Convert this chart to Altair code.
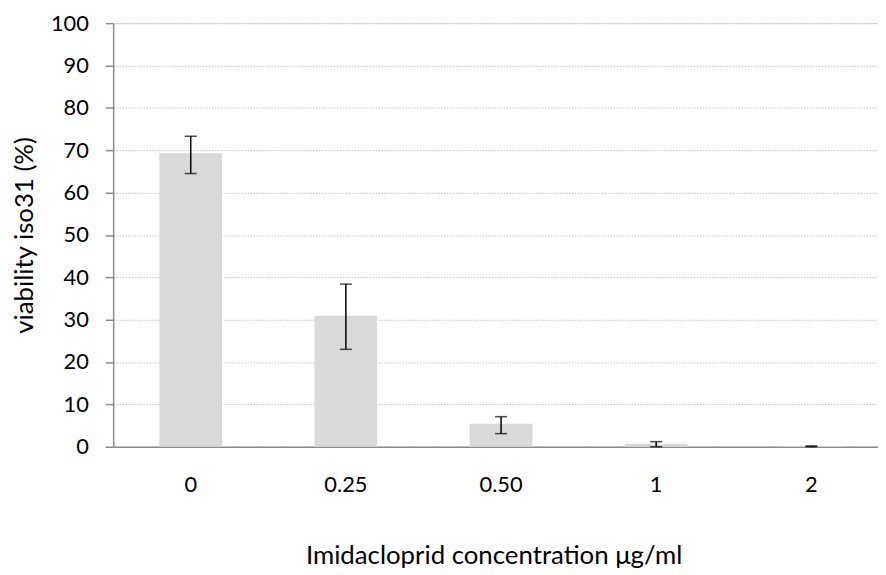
import altair as alt
import pandas as pd

concentrations = ["0", "0.25", "0.50", "1", "2"]
viability = [69.3, 30.9, 5.4, 0.7, 0.1]
err_low = [64.5, 23.0, 3.1, 0.0, 0.0]
err_high = [73.3, 38.4, 7.1, 1.2, 0.2]
y_ticks = [0, 10, 20, 30, 40, 50, 60, 70, 80, 90, 100]

df = pd.DataFrame({
    "conc": concentrations,
    "viability": viability,
    "lo": err_low,
    "hi": err_high,
})

FONT = "Lato"
AXIS_GRAY = "#8c8c8c"
W, H = 771, 427

x_enc = alt.X(
    "conc:N",
    sort=concentrations,
    scale=alt.Scale(range=[0, 782], paddingInner=0.596, paddingOuter=0.298),
    axis=alt.Axis(
        title="Imidacloprid concentration μg/ml",
        labelAngle=0,
        ticks=False,
        labelPadding=45,
        labelBaseline="alphabetic",
        labelFontSize=22,
        labelFont=FONT,
        labelColor="#000000",
        domainColor=AXIS_GRAY,
        domainWidth=1.5,
        titleFont=FONT,
        titleFontSize=26,
        titleFontWeight="normal",
        titleColor="#000000",
        titleX=383.5,
        titleY=118,
        titleBaseline="alphabetic",
        titleAlign="center",
        grid=False,
    ),
)

y_scale = alt.Scale(domain=[0, 100], nice=False)

bars = alt.Chart(df).mark_bar(color="#d9d9d9").encode(
    x=x_enc,
    y=alt.Y(
        "viability:Q",
        scale=y_scale,
        axis=alt.Axis(
            title="viability iso31 (%)",
            values=y_ticks,
            grid=True,
            gridColor="#c4c4c4",
            gridDash=[1.5, 1.5],
            gridWidth=1,
            tickSize=8,
            tickColor=AXIS_GRAY,
            tickWidth=1.5,
            domainColor=AXIS_GRAY,
            domainWidth=1.5,
            labelPadding=17,
            labelFontSize=22,
            labelFont=FONT,
            labelColor="#000000",
            titleFont=FONT,
            titleFontSize=26,
            titleFontWeight="normal",
            titleColor="#000000",
            titleX=-81,
            titleY=H / 2,
            titleAngle=-90,
            titleBaseline="alphabetic",
            titleAlign="center",
        ),
    ),
)

stems = alt.Chart(df).mark_rule(color="#000000", strokeWidth=1.5).encode(
    x=alt.X("conc:N", sort=concentrations),
    y=alt.Y("lo:Q", scale=y_scale),
    y2="hi:Q",
)

caps_hi = alt.Chart(df).mark_tick(color="#000000", size=12, thickness=1.5).encode(
    x=alt.X("conc:N", sort=concentrations),
    y=alt.Y("hi:Q", scale=y_scale),
)

caps_lo = alt.Chart(df).mark_tick(color="#000000", size=12, thickness=1.5).encode(
    x=alt.X("conc:N", sort=concentrations),
    y=alt.Y("lo:Q", scale=y_scale),
)

chart = (
    alt.layer(bars, stems, caps_hi, caps_lo)
    .properties(
        width=W,
        height=H,
        autosize=alt.AutoSizeParams(type="none"),
        padding={"left": 106, "top": 13, "right": 0, "bottom": 126},
    )
    .configure_view(stroke=None)
    .configure(background="#ffffff")
)

chart.save("out.html", embed_options={"renderer": "svg", "actions": False})
